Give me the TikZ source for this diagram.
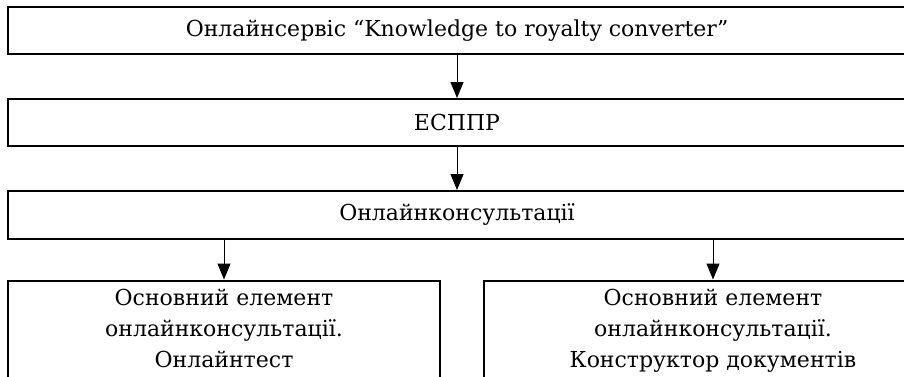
\documentclass[tikz,border=0pt]{standalone}
\usepackage{fontspec}
\setmainfont{DejaVu Serif}
\usetikzlibrary{arrows.meta}
\begin{document}
\begin{tikzpicture}[x=1pt,y=-1pt,
    box/.style={draw=black, line width=2pt, inner sep=0pt, align=center,
      font=\fontsize{22}{31}\selectfont},
    twobox/.style={box, minimum height=112pt, text height=64pt, text depth=3pt},
    arr/.style={-{Triangle[width=13pt,length=16pt]}, line width=1pt}]
    \useasboundingbox (0,0) rectangle (904,376);
    \clip (0,0) rectangle (904,376);
    \node[box, minimum width=898pt, minimum height=47pt] (svc) at (457,30.5) {Онлайнсервіс “Knowledge to royalty converter”};
    \node[box, minimum width=898pt, minimum height=47pt] (esppr) at (457,122.5) {ЕСППР};
    \node[box, minimum width=898pt, minimum height=48pt] (cons) at (457,215) {Онлайнконсультації};
    \node[twobox, minimum width=432pt] (test) at (224,336.5) {Основний елемент\\онлайнконсультації.\\Онлайнтест};
    \node[twobox, minimum width=458pt] (docs) at (713,336.5) {Основний елемент\\онлайнконсультації.\\Конструктор документів};
    \draw[arr] (svc.south) -- (esppr.north);
    \draw[arr] (esppr.south) -- (cons.north);
    \draw[arr] (cons.south -| test.north) -- (test.north);
    \draw[arr] (cons.south -| docs.north) -- (docs.north);
\end{tikzpicture}
\end{document}
